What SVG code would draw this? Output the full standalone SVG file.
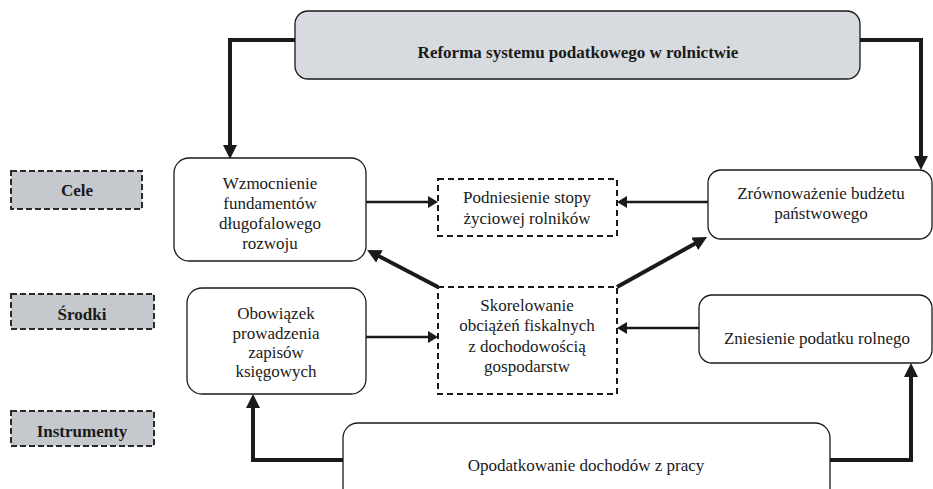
<svg xmlns="http://www.w3.org/2000/svg" width="933" height="489" viewBox="0 0 933 489">
<style>
text{font-size:17px;fill:#1a1a1a;text-anchor:middle}
.b{font-weight:bold}
.box{fill:#fff;stroke:#1a1a1a;stroke-width:1.3}
.top{fill:#d7dade;stroke:#1a1a1a;stroke-width:1.3}
.dash{fill:#fff;stroke:#1a1a1a;stroke-width:2;stroke-dasharray:6,4}
.lab{fill:#c5c8cc;stroke:#2a2a2a;stroke-width:2;stroke-dasharray:6,3}
.thick{fill:none;stroke:#1a1a1a;stroke-width:4;marker-end:url(#ah)}
.thin{fill:none;stroke:#1a1a1a;stroke-width:2.5;marker-end:url(#at)}
</style>
<defs>
<marker id="ah" markerUnits="userSpaceOnUse" markerWidth="14" markerHeight="14" refX="3" refY="7" orient="auto"><path d="M0,0 L14,7 L0,14 z" fill="#1a1a1a"/></marker>
<marker id="at" markerUnits="userSpaceOnUse" markerWidth="10" markerHeight="12" refX="2" refY="6" orient="auto"><path d="M0,0 L10,6 L0,12 z" fill="#1a1a1a"/></marker>
</defs>
<rect width="933" height="489" fill="#fff"/>
<g id="connectors">
<path class="thick" d="M295,40 H230 V148"/>
<path class="thick" d="M860,40 H921 V159"/>
<path class="thin" d="M366,202 H430"/>
<path class="thin" d="M708,202 H625"/>
<path class="thin" d="M366,337 H430"/>
<path class="thin" d="M699,328 H625"/>
<path class="thick" d="M343,460 H253 V405"/>
<path class="thick" d="M830,460 H911 V374"/>
<path class="thick" d="M438,287 L376.8,255.1"/>
<path class="thick" d="M617,287 L697.4,242.3"/>
</g>
<g font-family="Liberation Serif, serif">
<g id="reforma"><rect class="top" x="295" y="11" width="565" height="68" rx="13"/><text class="b" x="578" y="58">Reforma systemu podatkowego w rolnictwie</text></g>
<g id="cele"><rect class="lab" x="11" y="171" width="131" height="38"/><text class="b" x="77" y="196">Cele</text></g>
<g id="srodki"><rect class="lab" x="11" y="294" width="143" height="35"/><text class="b" x="82" y="320">Środki</text></g>
<g id="instrumenty"><rect class="lab" x="11" y="411" width="143" height="35"/><text class="b" x="82" y="437">Instrumenty</text></g>
<g id="wzmocnienie"><rect class="box" x="174" y="158" width="192" height="103" rx="15"/>
<text x="270" y="189">Wzmocnienie</text><text x="270" y="209">fundamentów</text><text x="270" y="229">długofalowego</text><text x="270" y="249">rozwoju</text></g>
<g id="podniesienie"><rect class="dash" x="438" y="179" width="179" height="57"/>
<text x="527" y="203">Podniesienie stopy</text><text x="527" y="224">życiowej rolników</text></g>
<g id="zrownowazenie"><rect class="box" x="708" y="170" width="224" height="69" rx="13"/>
<text x="821" y="199">Zrównoważenie budżetu</text><text x="821" y="219">państwowego</text></g>
<g id="obowiazek"><rect class="box" x="187" y="288" width="179" height="106" rx="15"/>
<text x="276" y="319">Obowiązek</text><text x="276" y="339">prowadzenia</text><text x="276" y="358">zapisów</text><text x="276" y="377">księgowych</text></g>
<g id="skorelowanie"><rect class="dash" x="438" y="287" width="179" height="107"/>
<text x="527" y="311">Skorelowanie</text><text x="527" y="331">obciążeń fiskalnych</text><text x="527" y="352">z dochodowością</text><text x="527" y="372">gospodarstw</text></g>
<g id="zniesienie"><rect class="box" x="699" y="295" width="233" height="68" rx="13"/>
<text x="817" y="344">Zniesienie podatku rolnego</text></g>
<g id="opodatkowanie"><rect class="box" x="343" y="423" width="487" height="80" rx="15"/>
<text x="586" y="471">Opodatkowanie dochodów z pracy</text></g>
</g>
</svg>
